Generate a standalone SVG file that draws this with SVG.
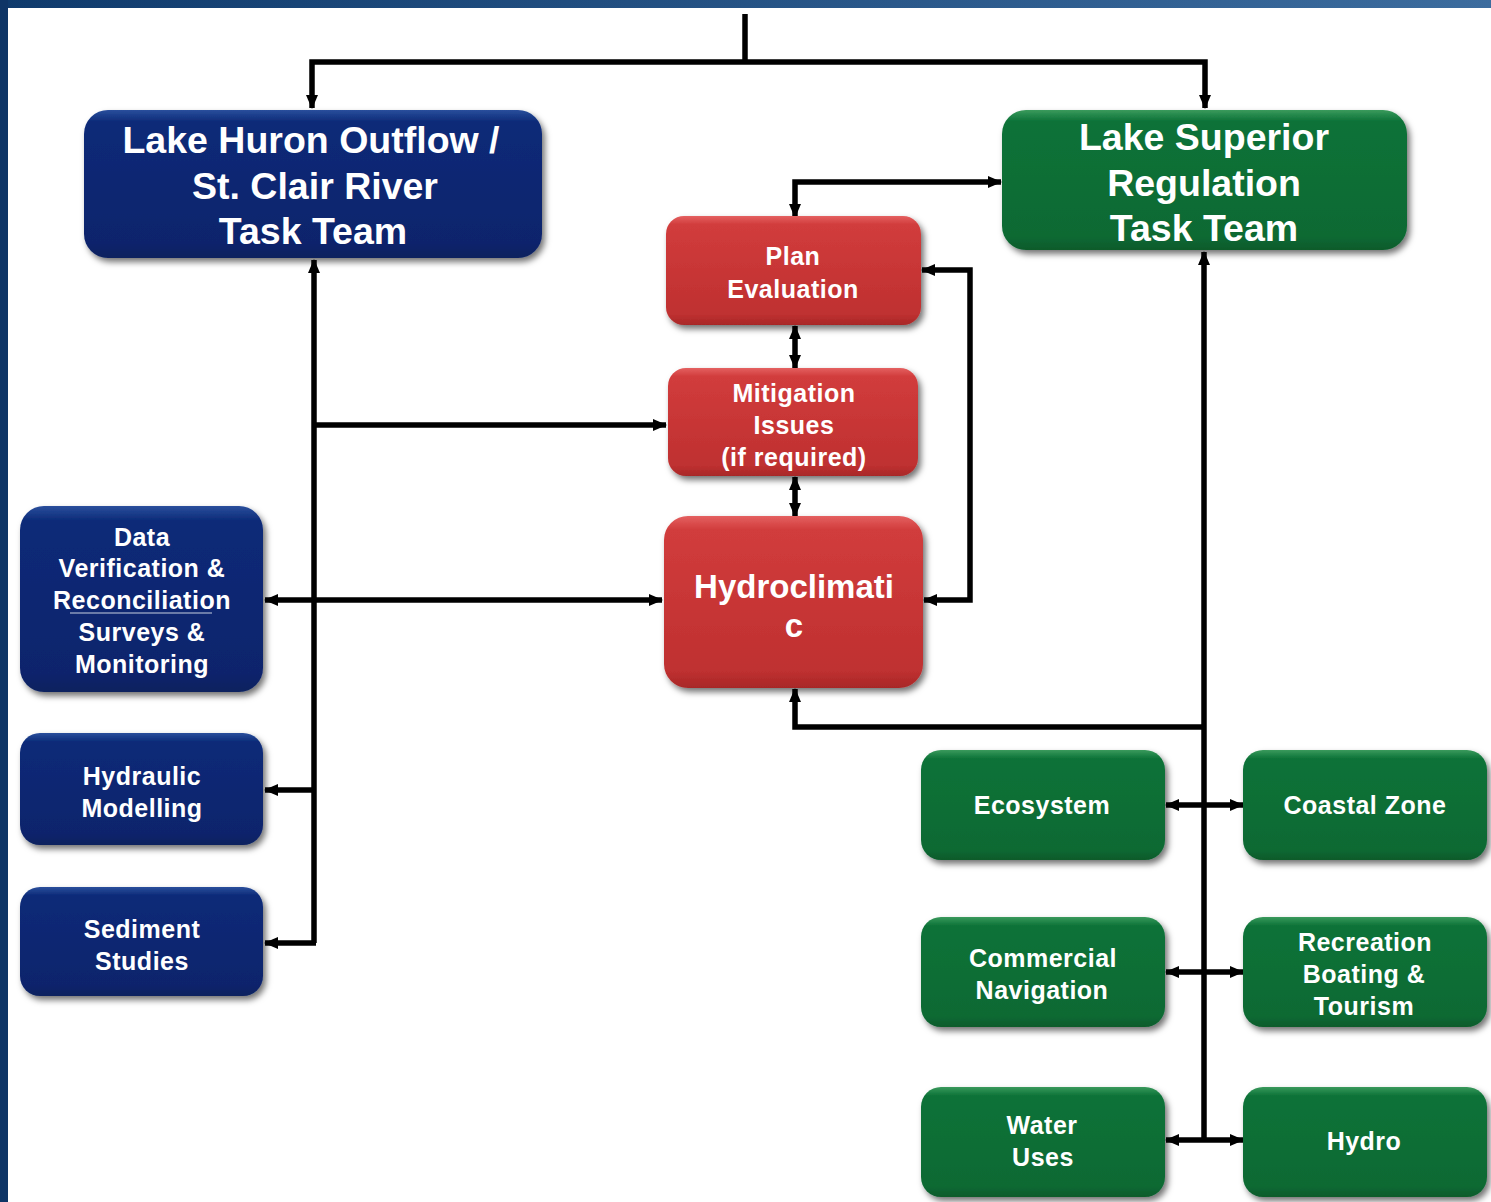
<svg xmlns="http://www.w3.org/2000/svg" width="1491" height="1202" viewBox="0 0 1491 1202">
<defs>
<linearGradient id="topbar" x1="0" y1="0" x2="1" y2="0">
<stop offset="0" stop-color="#0f3a6c"/><stop offset="1" stop-color="#3c6c9e"/>
</linearGradient>
<linearGradient id="gBlue" x1="0" y1="0" x2="0" y2="1">
<stop offset="0" stop-color="#2a4f9c"/><stop offset="0.08" stop-color="#0c2a78"/><stop offset="0.9" stop-color="#0a246c"/><stop offset="1" stop-color="#09205e"/>
</linearGradient>
<linearGradient id="gGreen" x1="0" y1="0" x2="0" y2="1">
<stop offset="0" stop-color="#3a9a5c"/><stop offset="0.08" stop-color="#0d7238"/><stop offset="0.9" stop-color="#0a6a33"/><stop offset="1" stop-color="#085a2b"/>
</linearGradient>
<linearGradient id="gRed" x1="0" y1="0" x2="0" y2="1">
<stop offset="0" stop-color="#e46060"/><stop offset="0.08" stop-color="#d13c3c"/><stop offset="0.9" stop-color="#bf3030"/><stop offset="1" stop-color="#a82828"/>
</linearGradient>
<filter id="sh" x="-10%" y="-10%" width="125%" height="130%">
<feDropShadow dx="3" dy="4" stdDeviation="3" flood-color="#000" flood-opacity="0.55"/>
</filter>
<marker id="ar" viewBox="0 0 14 12" markerWidth="14" markerHeight="12" refX="13" refY="6" orient="auto-start-reverse" markerUnits="userSpaceOnUse">
<path d="M0,0 L14,6 L0,12 z" fill="#000"/>
</marker>
<style>
.blue{fill:url(#gBlue);filter:url(#sh)}
.green{fill:url(#gGreen);filter:url(#sh)}
.red{fill:url(#gRed);filter:url(#sh)}
text{font-family:"Liberation Sans",Arial,sans-serif;font-weight:bold;fill:#fff;text-anchor:middle}
.big{font-size:37.5px}
.sm{font-size:25px;letter-spacing:0.5px}
.hc{font-size:33px}
.ln{fill:none;stroke:#000;stroke-width:5.5}
</style>
</defs>
<rect x="0" y="0" width="1491" height="1202" fill="#fff"/>
<rect x="0" y="0" width="1491" height="8" fill="url(#topbar)"/>
<rect x="0" y="0" width="8" height="1202" fill="#0e3566"/>

<g id="connectors">
<path class="ln" d="M745,14 V62"/>
<path class="ln" d="M312,108 V62 H1205 V108" marker-start="url(#ar)" marker-end="url(#ar)"/>
<path class="ln" d="M314,943 V260" marker-end="url(#ar)"/>
<path class="ln" d="M316,943 H265" marker-end="url(#ar)"/>
<path class="ln" d="M316,790 H265" marker-end="url(#ar)"/>
<path class="ln" d="M314,425 H666" marker-end="url(#ar)"/>
<path class="ln" d="M265,600 H662" marker-start="url(#ar)" marker-end="url(#ar)"/>
<path class="ln" d="M795,217 V182 H1001" marker-start="url(#ar)" marker-end="url(#ar)"/>
<path class="ln" d="M795,326 V368" marker-start="url(#ar)" marker-end="url(#ar)"/>
<path class="ln" d="M795,477 V516" marker-start="url(#ar)" marker-end="url(#ar)"/>
<path class="ln" d="M922,270 H970 V600 H924" marker-start="url(#ar)" marker-end="url(#ar)"/>
<path class="ln" d="M795,689 V727 H1204"  marker-start="url(#ar)"/>
<path class="ln" d="M1204,252 V1142" marker-start="url(#ar)"/>
<path class="ln" d="M1166,805 H1243" marker-start="url(#ar)" marker-end="url(#ar)"/>
<path class="ln" d="M1166,972 H1243" marker-start="url(#ar)" marker-end="url(#ar)"/>
<path class="ln" d="M1166,1140 H1243" marker-start="url(#ar)" marker-end="url(#ar)"/>
</g>

<g id="lake-huron">
<rect class="blue" x="84" y="110" width="458" height="148" rx="24"/>
<text class="big" x="311" y="153">Lake Huron Outflow /</text>
<text class="big" x="315" y="199">St. Clair River</text>
<text class="big" x="313" y="244">Task Team</text>
</g>
<g id="lake-superior">
<rect class="green" x="1002" y="110" width="405" height="140" rx="24"/>
<text class="big" x="1204" y="150">Lake Superior</text>
<text class="big" x="1204" y="196">Regulation</text>
<text class="big" x="1204" y="241">Task Team</text>
</g>
<g id="plan-evaluation">
<rect class="red" x="666" y="216" width="255" height="109" rx="18"/>
<text class="sm" x="793" y="265">Plan</text>
<text class="sm" x="793" y="298">Evaluation</text>
</g>
<g id="mitigation">
<rect class="red" x="668" y="368" width="250" height="108" rx="18"/>
<text class="sm" x="794" y="402">Mitigation</text>
<text class="sm" x="794" y="434">Issues</text>
<text class="sm" x="794" y="466">(if required)</text>
</g>
<g id="hydroclimatic">
<rect class="red" x="664" y="516" width="259" height="172" rx="24"/>
<text class="hc" x="794" y="598">Hydroclimati</text>
<text class="hc" x="794" y="637">c</text>
</g>
<g id="data-verification">
<rect class="blue" x="20" y="506" width="243" height="186" rx="24"/>
<text class="sm" x="142" y="546">Data</text>
<text class="sm" x="142" y="577">Verification &amp;</text>
<text class="sm" x="142" y="609">Reconciliation</text>
<line x1="70" y1="613" x2="212" y2="613" stroke="#c8cfe0" stroke-width="1.2"/>
<text class="sm" x="142" y="641">Surveys &amp;</text>
<text class="sm" x="142" y="673">Monitoring</text>
</g>
<g id="hydraulic-modelling">
<rect class="blue" x="20" y="733" width="243" height="112" rx="20"/>
<text class="sm" x="142" y="785">Hydraulic</text>
<text class="sm" x="142" y="817">Modelling</text>
</g>
<g id="sediment-studies">
<rect class="blue" x="20" y="887" width="243" height="109" rx="20"/>
<text class="sm" x="142" y="938">Sediment</text>
<text class="sm" x="142" y="970">Studies</text>
</g>
<g id="ecosystem">
<rect class="green" x="921" y="750" width="244" height="110" rx="20"/>
<text class="sm" x="1042" y="814">Ecosystem</text>
</g>
<g id="coastal-zone">
<rect class="green" x="1243" y="750" width="244" height="110" rx="20"/>
<text class="sm" x="1365" y="814">Coastal Zone</text>
</g>
<g id="commercial-navigation">
<rect class="green" x="921" y="917" width="244" height="110" rx="20"/>
<text class="sm" x="1043" y="967">Commercial</text>
<text class="sm" x="1042" y="999">Navigation</text>
</g>
<g id="recreation">
<rect class="green" x="1243" y="917" width="244" height="110" rx="20"/>
<text class="sm" x="1365" y="951">Recreation</text>
<text class="sm" x="1364" y="983">Boating &amp;</text>
<text class="sm" x="1364" y="1015">Tourism</text>
</g>
<g id="water-uses">
<rect class="green" x="921" y="1087" width="244" height="110" rx="20"/>
<text class="sm" x="1042" y="1134">Water</text>
<text class="sm" x="1043" y="1166">Uses</text>
</g>
<g id="hydro">
<rect class="green" x="1243" y="1087" width="244" height="110" rx="20"/>
<text class="sm" x="1364" y="1150">Hydro</text>
</g>
</svg>
